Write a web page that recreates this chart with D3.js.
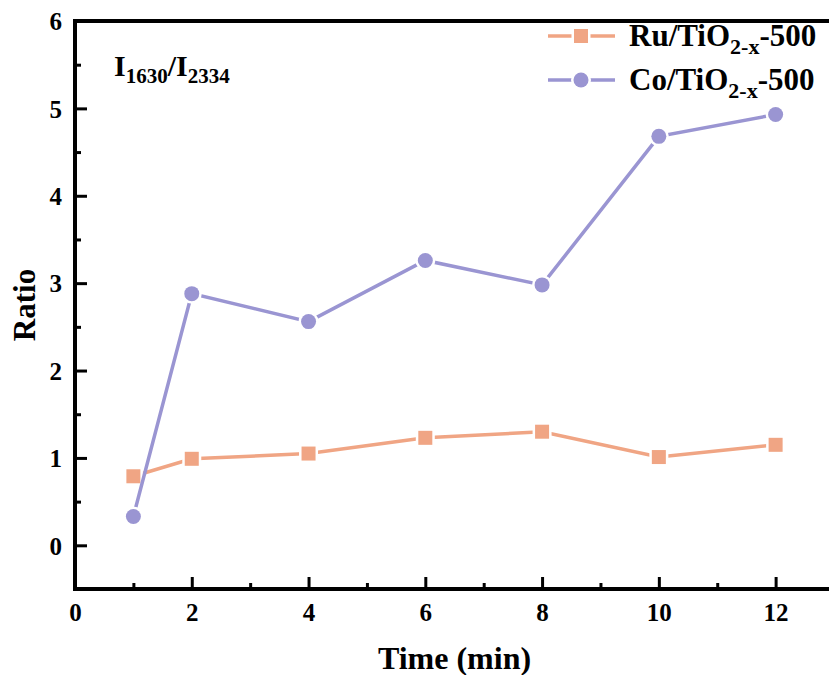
<!DOCTYPE html>
<html>
<head>
<meta charset="utf-8">
<script src="https://cdn.jsdelivr.net/npm/d3@7"></script>
<style>
  html, body { margin: 0; padding: 0; background: #fff; }
  svg { display: block; font-family: "Liberation Serif", "Times New Roman", serif; font-weight: bold; }
  svg text { font-family: "Liberation Serif", "Times New Roman", serif; font-weight: bold; }
</style>
</head>
<body>
<svg id="chart" width="829" height="675"></svg>
<script>
// Sampling times (min)
const times = [1, 2, 4, 6, 8, 10, 12];
// I1630/I2334 ratio for each catalyst
const ruValues = [0.79, 0.99, 1.05, 1.23, 1.30, 1.01, 1.15];
const coValues = [0.33, 2.88, 2.56, 3.26, 2.98, 4.68, 4.93];
// Axis ticks
const xTicks = [0, 2, 4, 6, 8, 10, 12];
const xMinorTicks = [1, 3, 5, 7, 9, 11, 13];
const yTicks = [0, 1, 2, 3, 4, 5, 6];
const yMinorTicks = [-0.5, 0.5, 1.5, 2.5, 3.5, 4.5, 5.5];

const ruColor = "#F0A584";
const coColor = "#9A95D2";

const svg = d3.select("#chart");
const mLeft = 75, mRight = 834, mTop = 21, mBottom = 589;

const x = d3.scaleLinear().domain([0, 13]).range([mLeft, mRight]);
const y = d3.scaleLinear().domain([-0.5, 6]).range([mBottom, mTop]);

// Axes with ticks pointing into the plot
const xAxis = d3.axisBottom(x).tickValues(xTicks).tickSize(-12).tickPadding(14).tickFormat(d3.format("d"));
const xAxisMinor = d3.axisBottom(x).tickValues(xMinorTicks).tickSize(-6).tickFormat("");
const yAxis = d3.axisLeft(y).tickValues(yTicks).tickSize(-12).tickPadding(13).tickFormat(d3.format("d"));
const yAxisMinor = d3.axisLeft(y).tickValues(yMinorTicks).tickSize(-6).tickFormat("");

function styleAxis(g) {
  g.attr("font-family", "Liberation Serif, Times New Roman, serif")
    .attr("font-size", 25)
    .attr("font-weight", "bold");
  g.select(".domain").remove();
  g.selectAll(".tick line").attr("stroke", "#000").attr("stroke-width", 3);
  g.selectAll(".tick text").attr("fill", "#000").style("font-size", "25px");
}

svg.append("g").attr("transform", `translate(0,${mBottom})`).call(xAxis).call(styleAxis);
svg.append("g").attr("transform", `translate(0,${mBottom})`).call(xAxisMinor).call(styleAxis);
svg.append("g").attr("transform", `translate(${mLeft},0)`).call(yAxis).call(styleAxis)
  .selectAll(".tick text").attr("dy", "0.35em");
svg.append("g").attr("transform", `translate(${mLeft},0)`).call(yAxisMinor).call(styleAxis);

// Frame: left, bottom and top lines
svg.append("path")
  .attr("d", `M${mRight + 10},${mTop} H${mLeft} V${mBottom} H${mRight + 10}`)
  .attr("fill", "none").attr("stroke", "#000").attr("stroke-width", 4)
  .attr("stroke-linecap", "square");

// Axis titles
svg.append("text")
  .attr("x", (mLeft + mRight) / 2).attr("y", 669)
  .attr("text-anchor", "middle").style("font-size", "32px")
  .text("Time (min)");
svg.append("text")
  .attr("transform", `translate(35,${(mTop + mBottom) / 2}) rotate(-90)`)
  .attr("text-anchor", "middle").style("font-size", "31px")
  .text("Ratio");

// Annotation I1630/I2334
const ann = svg.append("text").attr("x", 114).attr("y", 76).style("font-size", "30px");
ann.append("tspan").text("I");
ann.append("tspan").attr("dy", 7).style("font-size", "21px").text("1630");
ann.append("tspan").attr("dy", -7).text("/I");
ann.append("tspan").attr("dy", 7).style("font-size", "21px").text("2334");

// Series
const series = [
  { name: "Ru", values: ruValues, color: ruColor, shape: "square" },
  { name: "Co", values: coValues, color: coColor, shape: "circle" }
];

const line = d3.line().x(d => x(d[0])).y(d => y(d[1]));

function drawMarker(g, shape, color, cx, cy) {
  if (shape === "square") {
    g.append("rect")
      .attr("x", cx - 7).attr("y", cy - 7).attr("width", 14).attr("height", 14)
      .attr("fill", color).attr("stroke", "#fff").attr("stroke-width", 5)
      .style("paint-order", "stroke");
  } else {
    g.append("circle")
      .attr("cx", cx).attr("cy", cy).attr("r", 7.5)
      .attr("fill", color).attr("stroke", "#fff").attr("stroke-width", 5)
      .style("paint-order", "stroke");
  }
}

series.forEach(s => {
  const pts = times.map((t, i) => [t, s.values[i]]);
  const g = svg.append("g");
  g.append("path").datum(pts)
    .attr("d", line).attr("fill", "none")
    .attr("stroke", s.color).attr("stroke-width", 3.5);
  pts.forEach(p => drawMarker(g, s.shape, s.color, x(p[0]), y(p[1])));
});

// Legend
const legendItems = [
  { label: "Ru/TiO", color: ruColor, shape: "square", y: 36 },
  { label: "Co/TiO", color: coColor, shape: "circle", y: 80 }
];
legendItems.forEach(it => {
  const g = svg.append("g");
  g.append("line").attr("x1", 548).attr("x2", 615).attr("y1", it.y).attr("y2", it.y)
    .attr("stroke", it.color).attr("stroke-width", 3.5);
  drawMarker(g, it.shape, it.color, 581, it.y);
  const t = g.append("text").attr("x", 629).attr("y", it.y + 10).style("font-size", "31px");
  t.append("tspan").text(it.label);
  t.append("tspan").attr("dy", 8).style("font-size", "22px").text("2-x");
  t.append("tspan").attr("dy", -8).text("-500");
});
</script>
</body>
</html>
